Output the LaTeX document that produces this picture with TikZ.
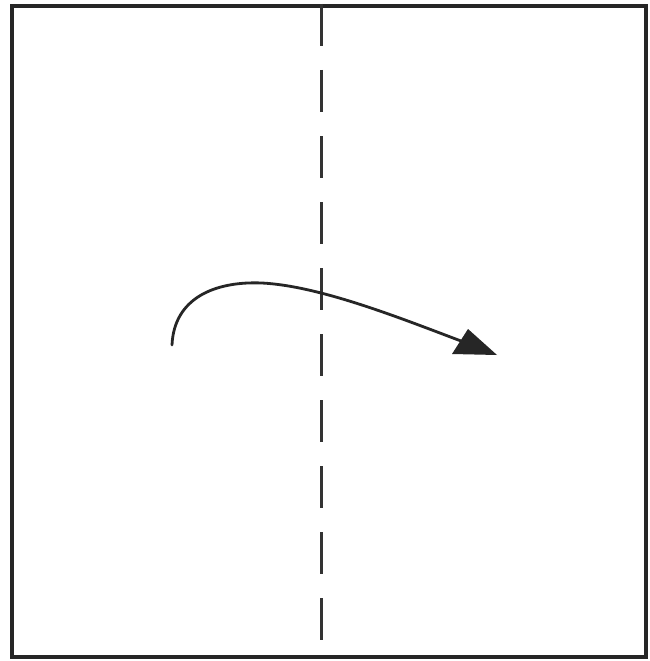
\documentclass[tikz,border=0pt]{standalone}
\begin{document}
\begin{tikzpicture}[x=1pt,y=-1pt,
  ink/.style={draw=black!85, line width=3pt},
  fold/.style={draw=black!80, line width=3pt, dash pattern=on 42pt off 24pt}]
\useasboundingbox (0,0) rectangle (650,661);
\fill[white] (0,0) rectangle (650,661);
% paper square
\draw[ink, line width=3.2pt] (12,6) rectangle (646,657);
% valley fold line
\coordinate (ftop) at (321,4);
\coordinate (fbot) at (321,641);
\draw[fold] (ftop) -- (fbot);
% curved arrow
\coordinate (s) at (172,345);
\coordinate (m) at (262,283);
\coordinate (e) at (461,341);
\coordinate (tip) at (497,355);
\draw[ink, line width=2.8pt, line cap=round] (s) .. controls (174,298) and (215,281) .. (m)
  .. controls (320,286) and (400,318) .. (e);
\fill[black!85] (tip) -- (468,329) -- (452,354) -- cycle;
\end{tikzpicture}
\end{document}
